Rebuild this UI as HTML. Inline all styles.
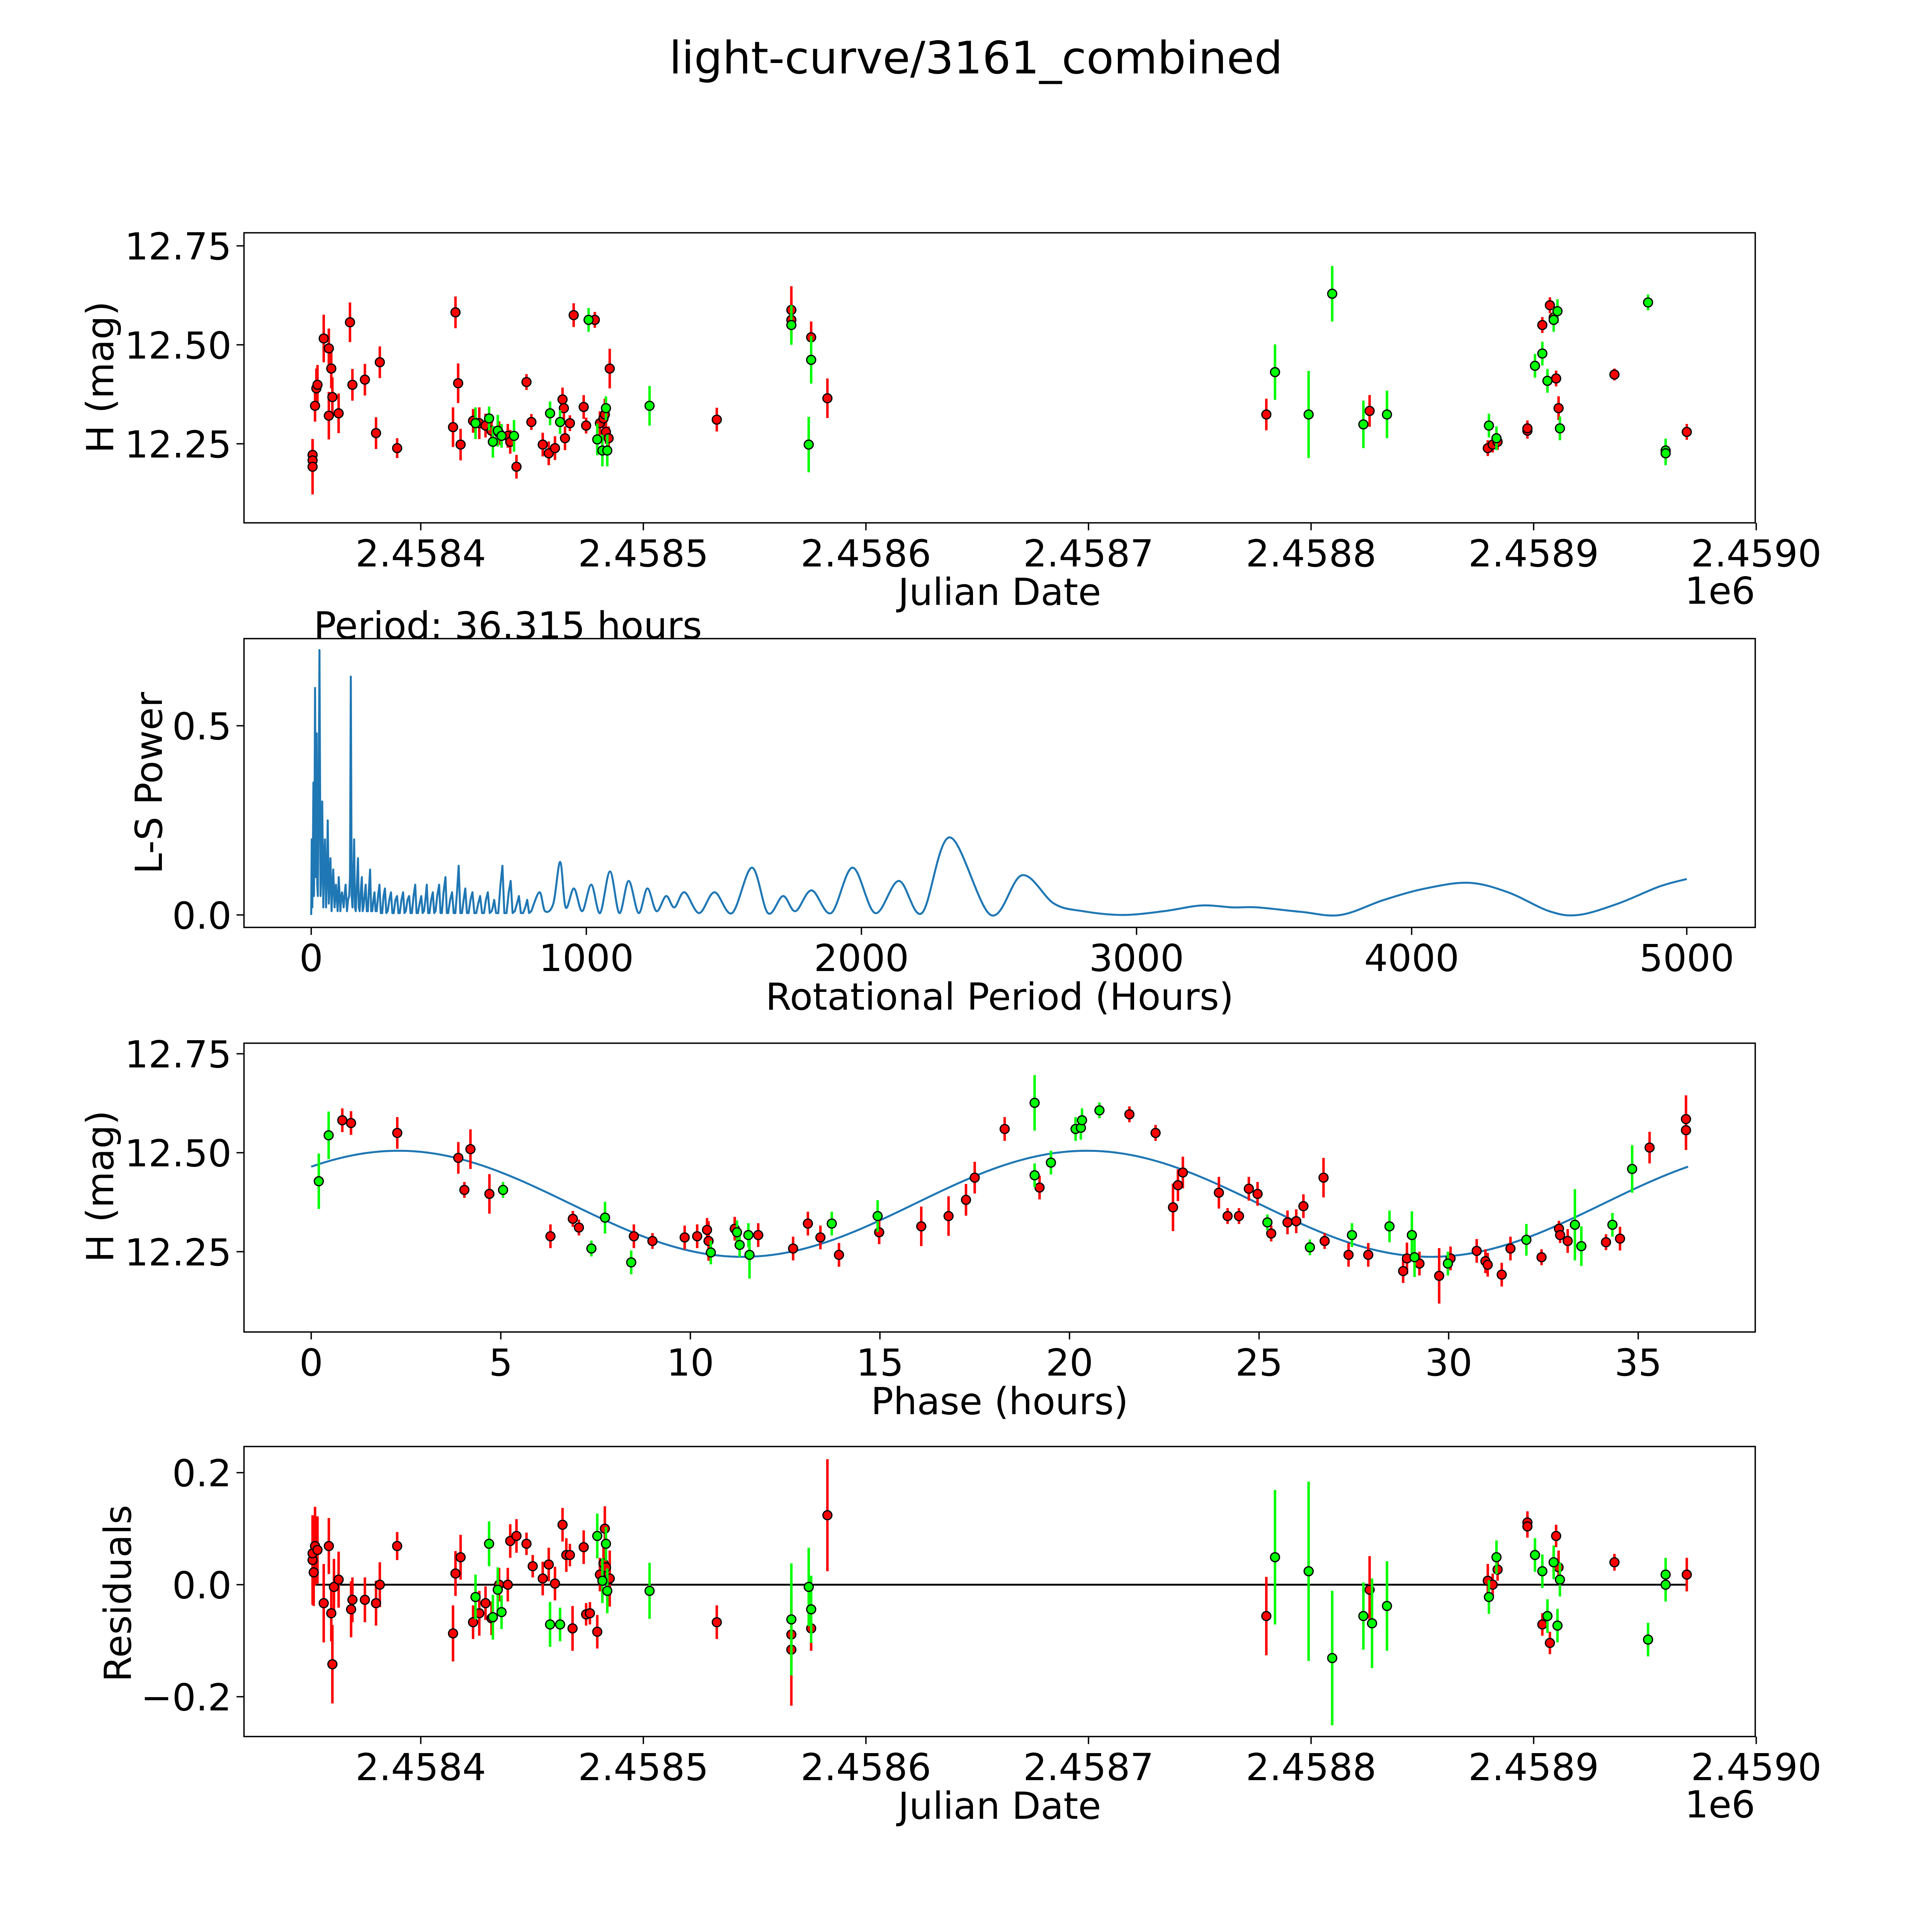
<!DOCTYPE html>
<html><head><meta charset="utf-8"><style>
html,body{margin:0;padding:0;background:#fff;overflow:hidden;width:100%;height:100%}
svg{display:block;position:fixed;left:0;top:0;width:100vw;height:100vh}
text{font-family:"DejaVu Sans","Liberation Sans",sans-serif;fill:#000}
</style></head><body>
<svg id="fig" xmlns="http://www.w3.org/2000/svg" viewBox="0 0 1552 1552" preserveAspectRatio="none">
<rect x="0" y="0" width="1552" height="1552" fill="#fff"/>
<text x="784" y="59" font-size="36" text-anchor="middle">light-curve/3161_combined</text>
</svg>
<script>
// ---------- Panel 1 data (days offset from 2458000, H mag, error) ----------
const redDays=[351.4,351.4,351.4,352.5,353.1,353.6,356.4,358.7,359.8,358.7,360.3,363.1,368.2,369.3,374.9,379.9,381.6,389.4,415.6,416.8,417.9,414.5,423.5,426.3,429.1,431.8,435.2,439.1,440.2,443.0,447.5,449.7,454.8,457.5,460.3,463.7,464.3,464.8,467.0,468.7,473.2,474.3,478.2,480.5,482.1,482.7,483.2,484.4,484.9,533.0,566.5,566.5,575.4,582.7,779.9,826.3,879.4,881.6,883.8,897.2,897.2,903.9,907.3,909.0,910.1,911.2,936.3,968.8];
const redMag=[12.222,12.208,12.192,12.346,12.390,12.399,12.516,12.491,12.440,12.321,12.368,12.327,12.557,12.399,12.412,12.277,12.456,12.239,12.582,12.403,12.248,12.292,12.308,12.302,12.296,12.283,12.277,12.270,12.255,12.192,12.406,12.305,12.248,12.226,12.239,12.362,12.340,12.264,12.302,12.575,12.343,12.296,12.563,12.302,12.314,12.324,12.280,12.264,12.440,12.311,12.588,12.563,12.519,12.365,12.324,12.333,12.239,12.248,12.255,12.283,12.289,12.550,12.600,12.569,12.415,12.340,12.425,12.280];
const redErr=[0.04,0.04,0.07,0.04,0.05,0.05,0.06,0.05,0.05,0.06,0.05,0.05,0.05,0.04,0.04,0.04,0.04,0.025,0.04,0.05,0.04,0.05,0.03,0.04,0.03,0.03,0.03,0.03,0.03,0.03,0.02,0.02,0.03,0.03,0.03,0.03,0.03,0.03,0.02,0.03,0.03,0.02,0.02,0.03,0.03,0.04,0.03,0.03,0.05,0.03,0.06,0.05,0.04,0.05,0.04,0.04,0.02,0.02,0.02,0.02,0.02,0.02,0.02,0.02,0.02,0.03,0.015,0.02];
const greenDays=[424.6,430.7,432.4,434.6,436.3,441.9,458.1,462.6,475.4,479.3,481.6,483.2,483.8,502.8,566.5,574.3,575.4,783.8,798.9,809.5,823.5,834.1,879.9,883.3,900.6,903.9,906.2,909.0,910.7,911.8,951.4,959.3,959.3];
const greenMag=[12.302,12.314,12.255,12.283,12.270,12.270,12.327,12.305,12.563,12.261,12.233,12.340,12.233,12.346,12.550,12.248,12.462,12.431,12.324,12.629,12.299,12.324,12.296,12.264,12.447,12.478,12.409,12.563,12.585,12.289,12.607,12.233,12.226];
const greenErr=[0.04,0.03,0.04,0.04,0.03,0.04,0.03,0.03,0.03,0.04,0.04,0.03,0.04,0.05,0.05,0.07,0.06,0.07,0.11,0.07,0.06,0.06,0.03,0.03,0.03,0.03,0.03,0.03,0.03,0.03,0.02,0.03,0.03];
const dateTicks=[400,500,600,700,800,900,1000];
const dateTickLabels=["2.4584","2.4585","2.4586","2.4587","2.4588","2.4589","2.4590"];
const magTicks=[12.25,12.5,12.75];
const magTickLabels=["12.25","12.50","12.75"];

// ---------- Panel 2 periodogram (hours, power) ----------
const lsHours=[0,2,4,6,8,10,12,14,17,20,22,24,27,30,34,37,40,44,47,50,54,57,60,64,67,70,74,77,80,85,88,90,96,98,100,106,109,112,118,121,125,130,134,138,141,144,147,150,153,156,159,162,166,170,173,176,180,184,187,190,194,198,202,206,210,214,218,222,226,230,234,238,243,248,253,258,263,268,273,278,284,290,295,300,306,312,317,322,328,334,339,344,350,356,361,366,372,378,383,388,394,400,405,410,415,420,425,430,436,442,447,452,458,465,470,475,481,488,493,498,505,512,518,524,530,536,542,548,554,560,566,572,579,586,593,600,607,614,621,628,635,642,649,656,660,665,672,680,688,695,702,710,718,725,732,740,748,755,762,770,778,785,792,800];
const lsPower=[0,0.2,0.02,0.15,0.35,0.05,0.25,0.6,0.1,0.48,0.08,0.05,0.3,0.7,0.05,0.12,0.3,0.02,0.15,0.2,0.02,0.1,0.25,0.03,0.09,0.15,0.01,0.07,0.12,0.02,0.06,0.08,0.01,0.05,0.1,0.01,0.05,0.06,0.02,0.05,0.08,0.01,0.04,0.05,0.1,0.63,0.05,0.02,0.1,0.2,0.02,0.01,0.08,0.15,0.02,0.01,0.06,0.1,0.01,0.02,0.05,0.08,0.01,0.01,0.07,0.12,0.01,0.01,0.04,0.06,0.01,0.01,0.05,0.08,0.005,0.005,0.05,0.07,0.005,0.01,0.04,0.06,0.005,0.005,0.04,0.05,0.005,0.005,0.04,0.06,0.005,0.01,0.04,0.05,0.005,0.005,0.05,0.08,0.005,0.005,0.03,0.05,0.005,0.01,0.04,0.08,0.005,0.005,0.04,0.06,0.005,0.01,0.05,0.08,0.005,0.005,0.06,0.1,0.005,0.005,0.04,0.06,0.005,0.005,0.06,0.13,0.005,0.005,0.04,0.07,0.005,0.005,0.04,0.06,0.005,0.005,0.03,0.05,0.005,0.005,0.04,0.06,0.005,0.01,0.02,0.04,0.005,0.005,0.08,0.13,0.005,0.005,0.06,0.09,0.005,0.01,0.03,0.05,0.005,0.005,0.02,0.04,0.005,0.01];
const lsSmoothHours=[800,830,850,880,905,925,955,985,1018,1050,1086,1120,1154,1190,1222,1255,1290,1320,1357,1410,1466,1530,1602,1660,1715,1760,1819,1890,1968,2050,2136,2220,2321,2470,2584,2700,2805,2950,3100,3235,3350,3439,3600,3742,3900,4050,4208,4350,4500,4606,4750,4900,5000];
const lsSmoothPower=[0.01,0.06,0.01,0.03,0.14,0.02,0.07,0.01,0.08,0.005,0.115,0.005,0.09,0.005,0.07,0.01,0.05,0.02,0.06,0.005,0.06,0.005,0.125,0.005,0.05,0.01,0.065,0.005,0.125,0.005,0.09,0.005,0.205,0.0,0.105,0.03,0.01,0.0,0.01,0.025,0.02,0.02,0.008,0.0,0.04,0.07,0.085,0.06,0.01,0.0,0.03,0.075,0.095];
const lsXTicks=[0,1000,2000,3000,4000,5000];
const lsYTicks=[0,0.5];
const lsYTickLabels=["0.0","0.5"];
const periodHours=36.315;

// ---------- Panel 3 phased data ----------
const phRed=[0.82,1.05,2.27,3.88,4.04,4.20,4.70,6.31,6.90,7.06,8.51,9.0,9.85,10.18,10.44,10.48,11.17,11.79,12.71,13.1,13.43,13.92,14.98,16.09,16.81,17.27,17.5,18.29,19.21,21.58,22.27,22.73,22.86,22.99,23.94,24.17,24.47,24.73,24.96,25.32,25.75,25.98,26.17,26.7,26.73,27.36,27.88,28.8,28.9,29.23,29.75,30.05,30.74,30.97,31.03,31.4,31.63,32.45,32.91,32.94,33.14,34.15,34.52,35.3,36.26,36.26];
const phRedMag=[12.582,12.575,12.550,12.487,12.406,12.509,12.396,12.289,12.333,12.311,12.289,12.277,12.286,12.289,12.305,12.277,12.308,12.292,12.258,12.321,12.286,12.242,12.299,12.314,12.340,12.381,12.437,12.560,12.412,12.597,12.550,12.362,12.418,12.450,12.399,12.340,12.340,12.409,12.396,12.296,12.324,12.327,12.365,12.437,12.277,12.242,12.242,12.201,12.233,12.220,12.189,12.233,12.252,12.226,12.217,12.192,12.258,12.236,12.308,12.292,12.277,12.274,12.283,12.513,12.585,12.557];
const phGreen=[0.2,0.46,5.06,7.39,7.75,8.44,10.54,11.23,11.3,11.53,11.56,13.73,14.94,19.08,19.08,19.51,20.16,20.3,20.33,20.79,25.22,26.34,27.45,28.44,29.03,29.1,29.98,32.05,33.33,33.5,34.32,34.84];
const phGreenMag=[12.428,12.544,12.406,12.258,12.336,12.223,12.248,12.299,12.267,12.292,12.242,12.321,12.340,12.626,12.443,12.475,12.560,12.563,12.582,12.607,12.324,12.261,12.292,12.314,12.292,12.236,12.220,12.280,12.318,12.264,12.318,12.459];
const phRedErr=[0.03,0.03,0.04,0.04,0.02,0.05,0.05,0.03,0.02,0.02,0.03,0.02,0.03,0.03,0.03,0.05,0.03,0.03,0.03,0.03,0.03,0.03,0.03,0.05,0.05,0.04,0.04,0.03,0.03,0.02,0.02,0.06,0.04,0.04,0.04,0.02,0.02,0.03,0.03,0.02,0.03,0.03,0.03,0.05,0.02,0.03,0.03,0.03,0.04,0.03,0.07,0.03,0.03,0.03,0.03,0.03,0.03,0.02,0.02,0.02,0.03,0.02,0.03,0.04,0.06,0.05];
const phGreenErr=[0.07,0.06,0.02,0.02,0.04,0.03,0.03,0.03,0.03,0.03,0.06,0.03,0.04,0.07,0.03,0.03,0.03,0.03,0.03,0.02,0.02,0.02,0.03,0.04,0.06,0.05,0.03,0.04,0.09,0.05,0.03,0.06];
const modelMean=12.371, modelAmp=0.134, modelPeak=2.3;
const phXTicks=[0,5,10,15,20,25,30,35];

// ---------- Panel 4 residuals ----------
const resRedDays=[351.4,351.4,351.9,352.5,353.6,356.4,358.7,359.8,360.3,361.0,363.1,368.7,369.3,374.9,379.9,381.6,389.4,414.5,415.6,417.9,423.5,426.3,429.1,431.8,435.2,439.1,440.2,443.0,447.5,450.3,454.8,457.5,460.3,463.7,465.4,467.0,468.2,473.2,474.3,476.0,479.3,480.5,482.1,482.7,483.2,484.4,484.9,533.0,566.5,566.5,575.4,582.7,779.9,826.3,879.4,881.6,883.8,897.2,897.2,903.9,907.3,909.0,910.1,911.2,936.3,968.8];
const resRed=[0.044,0.056,0.022,0.069,0.062,-0.033,0.069,-0.051,-0.142,-0.004,0.009,-0.044,-0.027,-0.027,-0.033,0,0.069,-0.087,0.02,0.049,-0.067,-0.051,-0.033,-0.06,0,0,0.078,0.087,0.073,0.033,0.011,0.036,0.002,0.107,0.053,0.053,-0.078,0.067,-0.053,-0.051,-0.084,0.018,0.038,0.1,0.031,0.009,0.011,-0.067,-0.116,-0.089,-0.078,0.124,-0.056,-0.009,0.007,0,0.027,0.111,0.104,-0.071,-0.104,0.04,0.087,0.031,0.04,0.018];
const resRedErr=[0.08,0.06,0.06,0.07,0.06,0.07,0.05,0.05,0.07,0.05,0.05,0.05,0.04,0.04,0.04,0.04,0.025,0.05,0.04,0.04,0.03,0.04,0.03,0.03,0.03,0.03,0.03,0.03,0.02,0.02,0.03,0.03,0.03,0.03,0.03,0.02,0.04,0.03,0.02,0.02,0.03,0.03,0.03,0.04,0.03,0.03,0.05,0.03,0.1,0.05,0.04,0.1,0.07,0.06,0.03,0.02,0.02,0.02,0.02,0.02,0.02,0.02,0.02,0.03,0.015,0.03];
const resGreenDays=[424.6,430.7,432.4,434.6,436.3,458.1,462.6,479.3,481.6,483.2,483.8,502.8,566.5,574.3,575.4,783.8,798.9,809.5,823.5,827.4,834.1,879.9,883.3,900.6,903.9,906.2,909.0,910.7,911.8,951.4,959.3,959.3];
const resGreen=[-0.022,0.073,-0.058,-0.009,-0.049,-0.071,-0.071,0.087,0.007,0.073,-0.011,-0.011,-0.062,-0.004,-0.044,0.049,0.024,-0.131,-0.056,-0.069,-0.038,-0.022,0.049,0.053,0.024,-0.056,0.04,-0.073,0.009,-0.098,0.018,0];
const resGreenErr=[0.04,0.04,0.04,0.04,0.03,0.04,0.03,0.04,0.04,0.03,0.04,0.05,0.1,0.07,0.06,0.12,0.16,0.12,0.06,0.08,0.08,0.03,0.03,0.03,0.03,0.03,0.03,0.03,0.03,0.03,0.03,0.03];
const resTicks=[-0.2,0,0.2];
const resTickLabels=["\u22120.2","0.0","0.2"];

const NS="http://www.w3.org/2000/svg";
const svg=document.getElementById('fig');
function mk(tag,attrs,parent){const e=document.createElementNS(NS,tag);for(const k in attrs)e.setAttribute(k,attrs[k]);(parent||svg).appendChild(e);return e;}
function scale(d0,d1,p0,p1){return v=>p0+(v-d0)*(p1-p0)/(d1-d0);}

const L=196,R=1410,TF=30,LF=30;
function axesBox(name){
  const g=mk('g',{});
  
  
  return g;
}
function frame(g,top,bottom){
  const r=mk('rect',{x:L,y:top,width:R-L,height:bottom-top,fill:'none',stroke:'#000','stroke-width':1.1},g);
  
  
}
function xTicks(g,bottom,sx,vals,labels,name){
  vals.forEach((v,i)=>{const x=sx(v);
    mk('line',{x1:x,y1:bottom,x2:x,y2:bottom+6,stroke:'#000','stroke-width':1.1},g);
    const t=mk('text',{x:x,y:bottom+35,'font-size':TF,'text-anchor':'middle'},g);
    
    
    t.textContent=labels[i];});
}
function yTicks(g,sy,vals,labels,name){
  vals.forEach((v,i)=>{const y=sy(v);
    mk('line',{x1:L-6,y1:y,x2:L,y2:y,stroke:'#000','stroke-width':1.1},g);
    const t=mk('text',{x:L-10,y:y+11,'font-size':TF,'text-anchor':'end'},g);
    
    
    t.textContent=labels[i];});
}
function label(g,txt,x,y,rot,name){
  const t=mk('text',{x:x,y:y,'font-size':LF,'text-anchor':'middle'},g);
  if(rot)t.setAttribute('transform',`rotate(-90 ${x} ${y})`);
  
  
  t.textContent=txt;
}
function points(g,xs,ys,es,sx,sy,color,name){
  xs.forEach((xv,i)=>{const x=sx(xv);
    const eb=mk('line',{x1:x,y1:sy(ys[i]-es[i]),x2:x,y2:sy(ys[i]+es[i]),stroke:color,'stroke-width':2},g);
    
    });
  xs.forEach((xv,i)=>{
    const c=mk('circle',{cx:sx(xv),cy:sy(ys[i]),r:3.6,fill:color,stroke:'#000','stroke-width':1},g);
    
    });
}

// Panel 1
{const top=187,bot=420;const g=axesBox('light-curve-panel');
 const sx=scale(400,1000,338,1410.8), sy=scale(12.5,12.75,277,197.5);
 frame(g,top,bot);
 xTicks(g,bot,sx,dateTicks,dateTickLabels,'x-tick-label');
 yTicks(g,sy,magTicks,magTickLabels,'y-tick-label');
 points(g,redDays,redMag,redErr,sx,sy,'#ff0000','red-point');
 points(g,greenDays,greenMag,greenErr,sx,sy,'#00ff00','green-point');
 label(g,'Julian Date',803,486,false,'x-axis-title');
 label(g,'H (mag)',91,303,true,'y-axis-title');
 const o=mk('text',{x:1410,y:485,'font-size':TF,'text-anchor':'end'},g);
 o.textContent='1e6';
}
// Panel 2
{const top=513,bot=745;const g=axesBox('periodogram-panel');
 const sx=scale(0,5000,250,1355), sy=scale(0,0.5,735,583);
 frame(g,top,bot);
 xTicks(g,bot,sx,lsXTicks,lsXTicks.map(String),'x-tick-label');
 yTicks(g,sy,lsYTicks,lsYTickLabels,'y-tick-label');
 let d='';lsHours.forEach((h,i)=>{d+=(i?'L':'M')+sx(h).toFixed(2)+' '+sy(lsPower[i]).toFixed(2);});
 // smooth Catmull-Rom part
 const P=lsSmoothHours.map((h,i)=>[sx(h),sy(lsSmoothPower[i])]);
 d+='L'+P[0][0].toFixed(2)+' '+P[0][1].toFixed(2);
 for(let i=0;i<P.length-1;i++){
   const p0=P[Math.max(0,i-1)],p1=P[i],p2=P[i+1],p3=P[Math.min(P.length-1,i+2)];
   const c1=[p1[0]+(p2[0]-p0[0])/6,p1[1]+(p2[1]-p0[1])/6];
   const c2=[p2[0]-(p3[0]-p1[0])/6,p2[1]-(p3[1]-p1[1])/6];
   d+=`C${c1[0].toFixed(2)} ${c1[1].toFixed(2)} ${c2[0].toFixed(2)} ${c2[1].toFixed(2)} ${p2[0].toFixed(2)} ${p2[1].toFixed(2)}`;
 }
 const p=mk('path',{d:d,fill:'none',stroke:'#1f77b4','stroke-width':1.6,'stroke-linejoin':'round'},g);
 
 label(g,'Rotational Period (Hours)',803,811,false,'x-axis-title');
 label(g,'L-S Power',130,629,true,'y-axis-title');
 const t=mk('text',{x:252,y:513,'font-size':LF},g);
 
 t.textContent='Period: '+periodHours.toFixed(3)+' hours';
}
// Panel 3
{const top=838,bot=1070;const g=axesBox('phased-panel');
 const sx=scale(0,35,250,1316), sy=scale(12.5,12.75,926,846.5);
 frame(g,top,bot);
 xTicks(g,bot,sx,phXTicks,phXTicks.map(String),'x-tick-label');
 yTicks(g,sy,magTicks,magTickLabels,'y-tick-label');
 let d='';const n=200;
 for(let i=0;i<=n;i++){const ph=periodHours*i/n;const m=modelMean+modelAmp*Math.cos(2*Math.PI*(ph-modelPeak)/(periodHours/2));
   d+=(i?'L':'M')+sx(ph).toFixed(2)+' '+sy(m).toFixed(2);}
 const p=mk('path',{d:d,fill:'none',stroke:'#1f77b4','stroke-width':1.6},g);
 
 points(g,phRed,phRedMag,phRedErr,sx,sy,'#ff0000','red-point');
 points(g,phGreen,phGreenMag,phGreenErr,sx,sy,'#00ff00','green-point');
 label(g,'Phase (hours)',803,1136,false,'x-axis-title');
 label(g,'H (mag)',91,953,true,'y-axis-title');
}
// Panel 4
{const top=1162,bot=1395;const g=axesBox('residuals-panel');
 const sx=scale(400,1000,338,1410.8), sy=scale(0,0.2,1273,1183);
 frame(g,top,bot);
 xTicks(g,bot,sx,dateTicks,dateTickLabels,'x-tick-label');
 yTicks(g,sy,resTicks,resTickLabels,'y-tick-label');
 const z=mk('line',{x1:sx(351.4),y1:sy(0),x2:sx(968.8),y2:sy(0),stroke:'#000','stroke-width':1.5},g);
 
 points(g,resRedDays,resRed,resRedErr,sx,sy,'#ff0000','red-residual');
 points(g,resGreenDays,resGreen,resGreenErr,sx,sy,'#00ff00','green-residual');
 label(g,'Julian Date',803,1461,false,'x-axis-title');
 label(g,'Residuals',105,1280,true,'y-axis-title');
 const o=mk('text',{x:1410,y:1460,'font-size':TF,'text-anchor':'end'},g);
 o.textContent='1e6';
}
</script>
</body></html>
